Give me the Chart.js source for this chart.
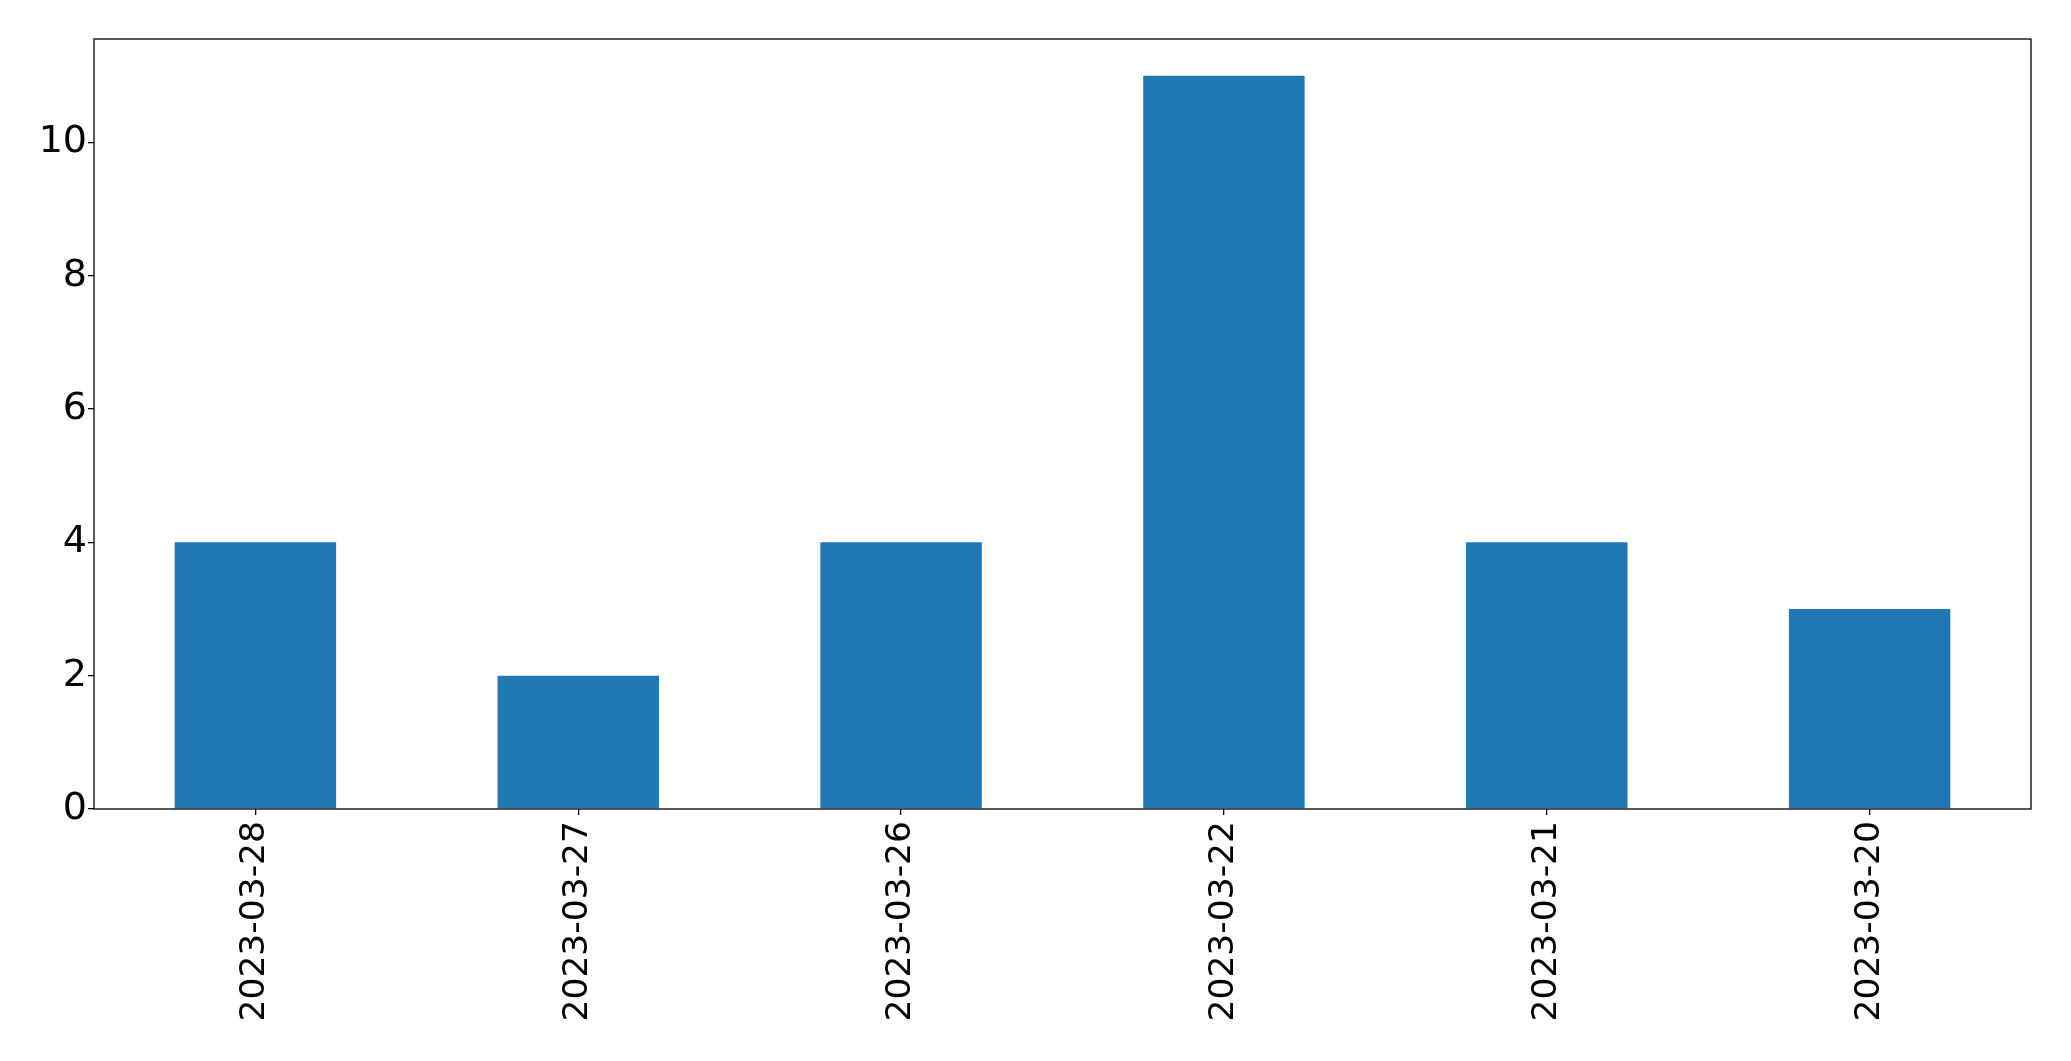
<!DOCTYPE html>
<html>
<head>
<meta charset="utf-8">
<script src="https://cdn.jsdelivr.net/npm/chart.js@4/dist/chart.umd.min.js"></script>
<style>
  html, body { margin: 0; padding: 0; background: #fff; }
  canvas { display: block; }
</style>
</head>
<body>
<canvas id="chart" width="2071" height="1061"></canvas>
<script>
var dates = ["2023-03-28", "2023-03-27", "2023-03-26", "2023-03-22", "2023-03-21", "2023-03-20"];
var counts = [4, 2, 4, 11, 4, 3];
var yTicks = [0, 2, 4, 6, 8, 10];
var yMax = 11.55;

// matplotlib style box around the plot area
var frame = {
  id: 'frame',
  afterDraw: function(c) {
    var a = c.chartArea, ctx = c.ctx;
    ctx.save();
    ctx.strokeStyle = '#000';
    ctx.lineWidth = 1.3;
    ctx.strokeRect(a.left, a.top, a.right - a.left, a.bottom - a.top);
    ctx.restore();
  }
};

var chart = new Chart("chart", {
  type: 'bar',
  data: {
    labels: dates,
    datasets: [{ data: counts, backgroundColor: '#1f77b4', barPercentage: 0.5, categoryPercentage: 1.0 }]
  },
  options: {
    responsive: false,
    animation: false,
    layout: { padding: { top: 39, right: 40, left: 0, bottom: 0 } },
    plugins: { legend: { display: false }, tooltip: { enabled: false } },
    scales: {
      x: {
        grid: { offset: false, drawOnChartArea: false, drawTicks: true, tickLength: 6, color: '#000', lineWidth: 1.3 },
        border: { display: false },
        ticks: { minRotation: 90, maxRotation: 90, padding: 6, color: '#000',
          font: { family: 'DejaVu Sans', size: 34.5 } },
        afterFit: function(s) { s.height = 252; }
      },
      y: {
        min: 0,
        max: yMax,
        grid: { drawOnChartArea: false, drawTicks: true, tickLength: 6, color: '#000', lineWidth: 1.3 },
        border: { display: false },
        ticks: { padding: 1, color: '#000', font: { family: 'DejaVu Sans', size: 38 } },
        afterBuildTicks: function(s) { s.ticks = yTicks.map(function(v) { return { value: v }; }); },
        afterFit: function(s) { s.width = 94; }
      }
    }
  },
  plugins: [frame]
});
</script>
</body>
</html>
